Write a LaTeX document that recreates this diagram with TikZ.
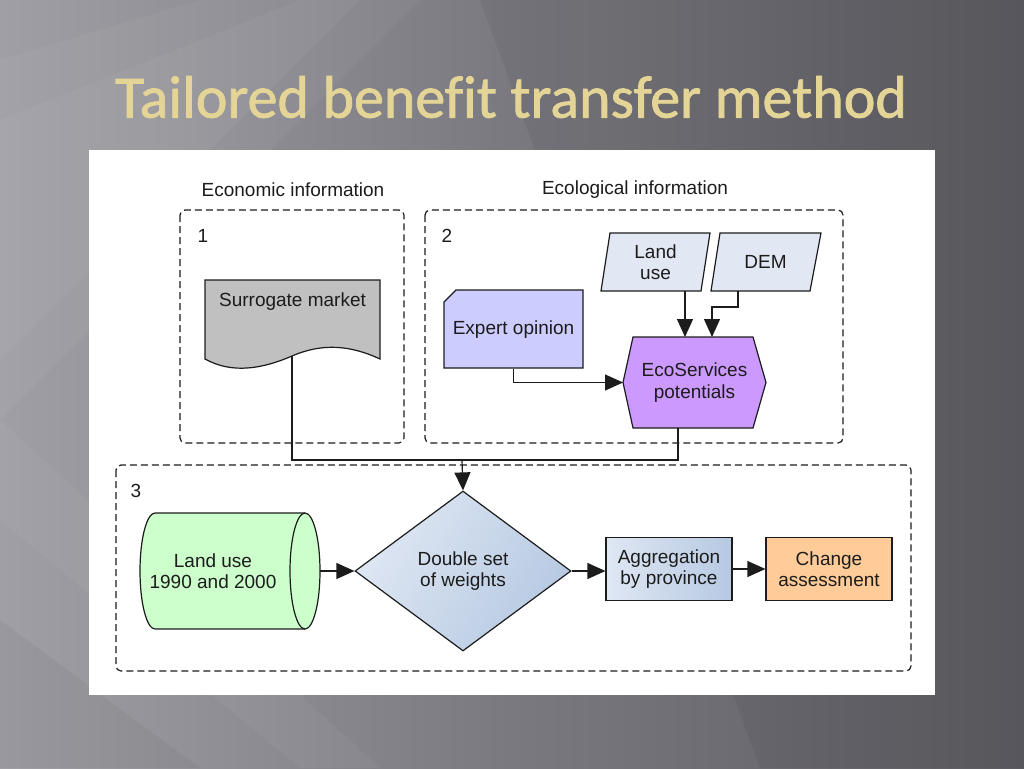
\documentclass[tikz,border=0pt]{standalone}
\usepackage{fontspec}
\setmainfont{Liberation Sans}
\newfontfamily\titlefont[Ligatures=NoCommon, FakeBold=1.3]{Carlito}
\usetikzlibrary{shapes.geometric,arrows.meta,calc}
\definecolor{bgL}{HTML}{A09FA5}
\definecolor{bgM}{HTML}{7A797F}
\definecolor{bgR}{HTML}{5C5B61}
\definecolor{gold}{HTML}{E4D597}
\definecolor{ink}{HTML}{1C1C1C}
\definecolor{smgray}{HTML}{C0C0C0}
\definecolor{expblue}{HTML}{CCCCFF}
\definecolor{inblue}{HTML}{E1E8F3}
\definecolor{ecopurple}{HTML}{CC99FF}
\definecolor{lugreen}{HTML}{CCFFCC}
\definecolor{wtL}{HTML}{DFE7F3}
\definecolor{wtR}{HTML}{B6C9E2}
\definecolor{chorange}{HTML}{FFCC99}
\tikzset{
  shp/.style={draw=ink, line width=1.2pt},
  grp/.style={draw=ink, line width=1.2pt, dash pattern=on 7pt off 4pt, rounded corners=5pt},
  conn/.style={draw=ink, line width=1.2pt},
  arr/.style={conn, -{Triangle[length=18pt,width=16pt]}},
  txt/.style={text=ink, font=\fontsize{19}{21.5}\selectfont, align=center, inner sep=0pt},
  box/.style={inner sep=0pt, outer sep=0pt},
}
\begin{document}
\begin{tikzpicture}[x=1pt,y=-1pt]
\useasboundingbox (0,0) rectangle (1024,768);
% background
\shade[left color=bgL, right color=bgR, middle color=bgM] (0,0) rectangle (1024,768);
\fill[white, opacity=0.04] (0,60) -- (200,0) -- (420,0) -- (0,420) -- cycle;
\fill[white, opacity=0.04] (0,120) -- (300,0) -- (360,0) -- (0,360) -- cycle;
\fill[white, opacity=0.04] (0,420) -- (0,520) -- (300,768) -- (380,768) -- cycle;
\fill[black, opacity=0.05] (480,0) -- (1024,0) -- (1024,768) -- (760,768) -- cycle;
\fill[black, opacity=0.04] (0,620) -- (0,768) -- (200,768) -- cycle;
% title
\node (title) [text=gold, font=\titlefont\fontsize{60}{68}\selectfont] at (511,97) {Tailored benefit transfer method};
% white panel
\fill[white] (89,150) rectangle (935,695);
% group boxes
\draw[grp] (180,210) rectangle (404,443);
\draw[grp] (425,210) rectangle (843,443);
\draw[grp] (116,465) rectangle (911,671);
\node[txt] (hEco) at (293,190) {Economic information};
\node[txt] (hEcl) at (635,190) {Ecological information};
\node[txt] (n1) at (203,236) {1};
\node[txt] (n2) at (447,236) {2};
\node[txt] (n3) at (136,491) {3};
% surrogate market (document shape)
\path[shp, fill=smgray] (205,280) -- (380,280) -- (380,359)
  .. controls (350,345) and (322,343) .. (292,356)
  .. controls (262,369) and (232,374) .. (205,359) -- cycle;
\node[txt] (sm) at (292.5,302) {Surrogate market};
\coordinate (smout) at (292,356);
% expert opinion (card)
\path[shp, fill=expblue] (456,290) -- (583,290) -- (583,368) -- (444,368) -- (444,302) -- cycle;
\node[txt, box, minimum width=139pt, minimum height=78pt] (exp) at (513.5,330) {Expert opinion};
% land use & DEM (parallelograms)
\path[shp, fill=inblue] (610,233) -- (710,233) -- (701,291) -- (601,291) -- cycle;
\node[txt, box, minimum width=109pt, minimum height=58pt] (lu) at (655.5,262) {Land\\use};
\path[shp, fill=inblue] (720,233) -- (821,233) -- (810,291) -- (711,291) -- cycle;
\node[txt, box, minimum width=110pt, minimum height=58pt] (dem) at (765.5,262) {DEM};
% EcoServices (hexagon)
\path[shp, fill=ecopurple] (633,337) -- (753,337) -- (766,382.5) -- (753,428) -- (633,428) -- (623,382.5) -- cycle;
\node[txt, box, minimum width=143pt, minimum height=91pt] (eco) at (694.5,382.5) {EcoServices\\potentials};
% land use 1990/2000 (horizontal cylinder)
\path[shp, fill=lugreen] (155,513) -- (305,513)
  .. controls (313.3,513) and (320,539) .. (320,571)
  .. controls (320,603) and (313.3,629) .. (305,629)
  -- (155,629)
  .. controls (146.7,629) and (140,603) .. (140,571)
  .. controls (140,539) and (146.7,513) .. (155,513) -- cycle;
\draw[shp] (305,513) .. controls (296.7,513) and (290,539) .. (290,571)
  .. controls (290,603) and (296.7,629) .. (305,629);
\node[box, minimum width=180pt, minimum height=116pt] (cyl) at (230,571) {};
\node[txt] (cyltxt) at (213,571) {Land use\\1990 and 2000};
% double set of weights
\node[shp, diamond, shading=axis, left color=wtL, right color=wtR, shading angle=60, minimum width=216pt, minimum height=160pt, inner sep=0pt] (dia) at (463,571) {};
\node[txt] (diatxt) at (463,571) {Double set\\of weights};
% aggregation
\node[shp, txt, shading=axis, left color=wtL, right color=wtR, minimum width=126pt, minimum height=63pt] (agg) at (669,569) {Aggregation\\by province};
% change assessment
\node[shp, txt, fill=chorange, minimum width=126pt, minimum height=63pt] (chg) at (829,569) {Change\\assessment};
% connectors
\coordinate (join) at (462,460);
\draw[conn] (smout) |- (join) -| ([xshift=-16.5pt]eco.south);
\draw[arr] (join) -- (dia.north);
\draw[arr] (exp.south) |- (eco.west);
\draw[arr] ([xshift=29.5pt]lu.south) -- ([xshift=-9.5pt]eco.north);
\draw[arr] ([xshift=-27.5pt]dem.south) -- ++(0,16) -| ([xshift=17.5pt]eco.north);
\draw[arr] (cyl.east) -- (dia.west);
\draw[arr] (dia.east) -- (dia.east -| agg.west);
\draw[arr] (agg.east) -- (chg.west);
\end{tikzpicture}
\end{document}
